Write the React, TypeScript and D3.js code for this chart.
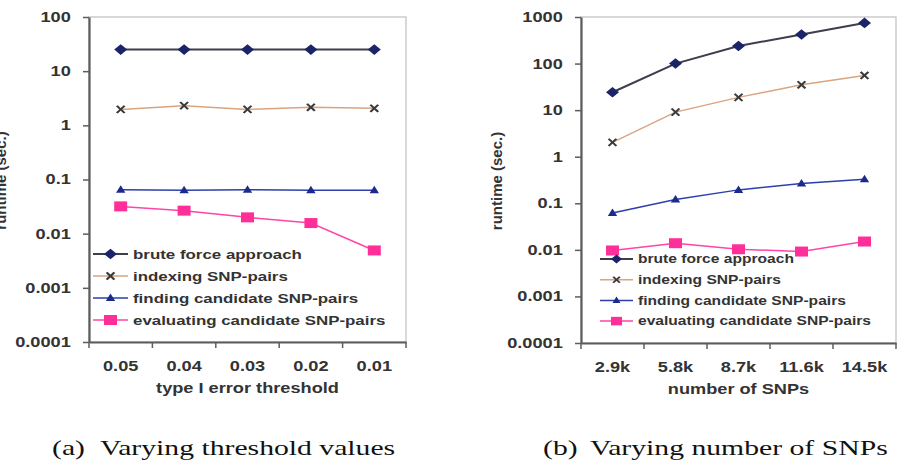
import React, { useEffect, useRef } from "react";
import * as d3 from "d3";

// categories
const thresholds = ["0.05", "0.04", "0.03", "0.02", "0.01"];
const snpCounts = ["2.9k", "5.8k", "8.7k", "11.6k", "14.5k"];

// y tick values (log axis)
const yTicksA = [0.0001, 0.001, 0.01, 0.1, 1, 10, 100];
const yTicksB = [0.0001, 0.001, 0.01, 0.1, 1, 10, 100, 1000];

const seriesNames = [
  "brute force approach",
  "indexing SNP-pairs",
  "finding candidate SNP-pairs",
  "evaluating candidate SNP-pairs",
];

// (a) varying threshold values
const bruteA = [25, 25, 25, 25, 25];
const indexA = [1.97, 2.31, 1.97, 2.15, 2.06];
const findA = [0.065, 0.063, 0.065, 0.063, 0.063];
const evalA = [0.0319, 0.0266, 0.02, 0.0157, 0.0049];

// (b) varying number of SNPs
const bruteB = [24.2, 100, 239, 420, 747];
const indexB = [2.03, 9.06, 18.8, 35, 55.7];
const findB = [0.062, 0.12, 0.194, 0.265, 0.328];
const evalB = [0.0097, 0.0139, 0.0103, 0.0092, 0.0151];

// the picture is stretched horizontally
const SX = 1.3;
const FONT = "'Liberation Sans', Arial, sans-serif";

const styles = [
  { line: "#3d3d4d", width: 2, marker: "diamond", fill: "#1b2468" },
  { line: "#d9a47e", width: 1.5, marker: "x", fill: "#3a3a3a" },
  { line: "#2c3fae", width: 1.5, marker: "triangle", fill: "#1c2a8c" },
  { line: "#ff45a6", width: 1.5, marker: "square", fill: "#ff2f9a" },
];

const markerPath = {
  diamond: "M0,-5.3L5,0L0,5.3L-5,0Z",
  triangle: "M0,-4.5L3.6,3L-3.6,3Z",
  square: "M-5,-5H5V5H-5Z",
  x: "M-3,-3.6L3,3.6M-3,3.6L3,-3.6",
};

function addMarker(g, kind, fill, cx, cy, k = 1) {
  const p = g
    .append("path")
    .attr("d", markerPath[kind])
    .attr("transform", `translate(${cx},${cy}) scale(${SX * k},${k})`);
  if (kind === "x") {
    p.attr("fill", "none").attr("stroke", fill).attr("stroke-width", 1.8);
  } else {
    p.attr("fill", fill);
  }
}

function drawPanel(svg, cfg) {
  const { x0, x1, y0, y1, cats, ticks, data, legend, xTitle, yLabelX } = cfg;
  const g = svg.append("g");

  const x = d3.scaleBand().domain(cats).range([x0, x1]);
  const y = d3
    .scaleLog()
    .domain([ticks[0], ticks[ticks.length - 1]])
    .range([y1, y0]);

  // light frame
  g.append("rect")
    .attr("x", x0)
    .attr("y", y0)
    .attr("width", x1 - x0)
    .attr("height", y1 - y0)
    .attr("fill", "none")
    .attr("stroke", "#c4c4c4")
    .attr("stroke-width", 1.3);

  // y axis
  const ya = g
    .append("g")
    .attr("transform", `translate(${x0},0)`)
    .call(
      d3
        .axisLeft(y)
        .tickValues(ticks)
        .tickFormat((d) => String(d))
        .tickSize(6)
        .tickSizeOuter(0)
        .tickPadding(8)
    );
  ya.select(".domain").attr("stroke", "#5c5c5c").attr("stroke-width", 2.2);
  ya.selectAll(".tick line").attr("stroke", "#5c5c5c").attr("stroke-width", 1.5);
  ya.selectAll(".tick text")
    .attr("font-family", FONT)
    .attr("font-weight", "bold")
    .attr("font-size", 14)
    .attr("fill", "#333")
    .attr("transform", `scale(${SX},1)`);

  // x axis (labels centered in bands, ticks at band edges)
  const xa = g
    .append("g")
    .attr("transform", `translate(0,${y1})`)
    .call(d3.axisBottom(x).tickSize(0).tickPadding(19));
  xa.select(".domain").attr("stroke", "#5c5c5c").attr("stroke-width", 2.2);
  xa.selectAll(".tick text")
    .attr("font-family", FONT)
    .attr("font-weight", "bold")
    .attr("font-size", 14)
    .attr("fill", "#333")
    .attr("transform", `scale(${SX},1)`);
  const edges = cats.map((c) => x(c)).concat([x1]);
  g.selectAll(".edge")
    .data(edges)
    .enter()
    .append("line")
    .attr("x1", (d) => d)
    .attr("x2", (d) => d)
    .attr("y1", y1)
    .attr("y2", y1 + 6)
    .attr("stroke", "#5c5c5c")
    .attr("stroke-width", 1.5);

  // axis titles
  g.append("text")
    .attr("transform", `translate(${(x0 + x1) / 2},${y1 + 51}) scale(${SX},1)`)
    .attr("text-anchor", "middle")
    .attr("font-family", FONT)
    .attr("font-weight", "bold")
    .attr("font-size", 14)
    .attr("fill", "#333")
    .text(xTitle);

  g.append("text")
    .attr("transform", `translate(${yLabelX},${(y0 + y1) / 2 + 1}) rotate(-90)`)
    .attr("text-anchor", "middle")
    .attr("dominant-baseline", "central")
    .attr("font-family", FONT)
    .attr("font-weight", "bold")
    .attr("font-size", 15)
    .attr("fill", "#333")
    .text("runtime (sec.)");

  // series
  const cx = (i) => x(cats[i]) + x.bandwidth() / 2;
  const line = d3
    .line()
    .x((d, i) => cx(i))
    .y((d) => y(d));

  data.forEach((vals, s) => {
    const st = styles[s];
    g.append("path")
      .attr("d", line(vals))
      .attr("fill", "none")
      .attr("stroke", st.line)
      .attr("stroke-width", st.width);
    vals.forEach((v, i) => addMarker(g, st.marker, st.fill, cx(i), y(v)));
  });

  // legend
  const lg = g.append("g");
  seriesNames.forEach((name, s) => {
    const st = styles[s];
    const ly = legend.y + s * legend.step;
    lg.append("line")
      .attr("x1", legend.x)
      .attr("x2", legend.x + legend.len)
      .attr("y1", ly)
      .attr("y2", ly)
      .attr("stroke", st.line)
      .attr("stroke-width", st.width);
    addMarker(lg, st.marker, st.fill, legend.x + legend.len / 2, ly, legend.k);
    lg.append("text")
      .attr("transform", `translate(${legend.x + legend.len + 5},${ly}) scale(${SX},1)`)
      .attr("dominant-baseline", "central")
      .attr("font-family", FONT)
      .attr("font-weight", "bold")
      .attr("font-size", legend.font)
      .attr("fill", "#333")
      .text(name);
  });
}

function caption(svg, x, x2, tag, text) {
  const t = [
    [x, tag],
    [x2, text],
  ];
  t.forEach(([px, s]) => {
    svg
      .append("text")
      .attr("transform", `translate(${px},455) scale(1.35,1)`)
      .attr("font-family", "'Liberation Serif', 'Times New Roman', serif")
      .attr("font-size", 22)
      .attr("fill", "#111")
      .text(s);
  });
}

const App = () => {
  const ref = useRef(null);

  useEffect(() => {
    const svg = d3.select(ref.current);
    svg.selectAll("*").remove();

    drawPanel(svg, {
      x0: 89,
      x1: 406,
      y0: 17,
      y1: 342,
      cats: thresholds,
      ticks: yTicksA,
      data: [bruteA, indexA, findA, evalA],
      legend: { x: 93, y: 254, step: 22, len: 35, font: 13, k: 1 },
      xTitle: "type I error threshold",
      yLabelX: 0,
    });

    drawPanel(svg, {
      x0: 581,
      x1: 896,
      y0: 17,
      y1: 343,
      cats: snpCounts,
      ticks: yTicksB,
      data: [bruteB, indexB, findB, evalB],
      legend: { x: 600, y: 259, step: 20.7, len: 33, font: 12, k: 0.85 },
      xTitle: "number of SNPs",
      yLabelX: 496,
    });

    caption(svg, 52, 100, "(a)", "Varying threshold values");
    caption(svg, 543, 590, "(b)", "Varying number of SNPs");
  }, []);

  return (
    <svg
      ref={ref}
      width={906}
      height={474}
      style={{ position: "absolute", left: 0, top: 0, background: "#fff" }}
    />
  );
};

export default App;
